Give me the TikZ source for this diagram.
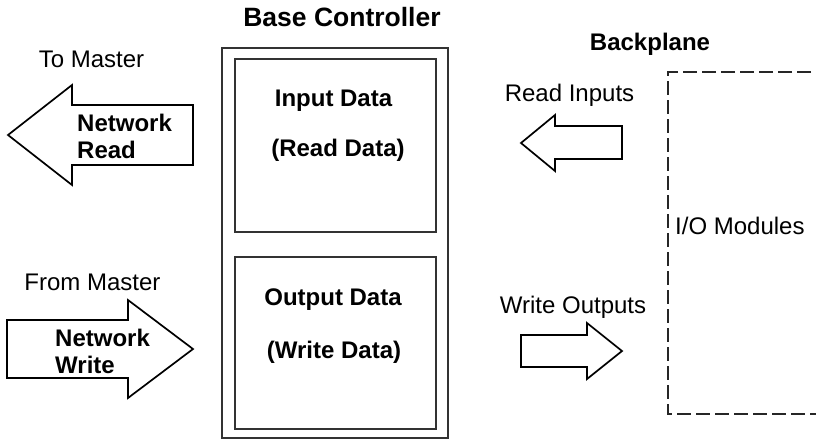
\documentclass[tikz,border=0pt]{standalone}
\usepackage{fontspec}
\setmainfont{Liberation Sans}
\begin{document}
\begin{tikzpicture}[x=1pt,y=-1pt,
  lbl/.style={inner sep=0pt,anchor=base,font=\fontsize{24}{27}\selectfont},
  blbl/.style={lbl,font=\fontsize{24}{27}\selectfont\bfseries},
  fat/.style={draw=black,line width=1.7pt,line join=miter,fill=white},
  boxline/.style={draw=black!80,line width=1.7pt},
  dashline/.style={draw=black!85,line width=1.8pt,dash pattern=on 14pt off 5pt}]
\useasboundingbox (0,0) rectangle (816,440);
\clip (0,0) rectangle (816,440);
% Network Read arrow (left)
\draw[fat] (8,135) -- (72,85) -- (72,105) -- (193,105) -- (193,165) -- (72,165) -- (72,185) -- cycle;
% Network Write arrow (right)
\draw[fat] (7,320) -- (128,320) -- (128,300) -- (193,349) -- (128,398) -- (128,378) -- (7,378) -- cycle;
% Read Inputs arrow
\draw[fat] (521,143) -- (555,115) -- (555,126) -- (622,126) -- (622,159) -- (555,159) -- (555,171) -- cycle;
% Write Outputs arrow
\draw[fat] (521,335) -- (587,335) -- (587,323) -- (622,351) -- (587,379) -- (587,367) -- (521,367) -- cycle;
% Base controller boxes
\node[boxline,minimum width=226pt,minimum height=390pt,inner sep=0pt] (outer) at (335,243) {};
\node[boxline,minimum width=201pt,minimum height=173pt,inner sep=0pt] (inbox) at (335.5,145.5) {};
\node[boxline,minimum width=201pt,minimum height=172pt,inner sep=0pt] (outbox) at (335.5,343) {};
% Backplane dashed box
\draw[dashline] (830,72) -- (668,72) -- (668,414) -- (830,414);
% Texts
\node[blbl,font=\fontsize{26.5}{27}\selectfont\bfseries] (bc) at (342,26) {Base Controller};
\node[blbl] (bp) at (650,50) {Backplane};
\node[lbl] (tom) at (91.5,67) {To Master};
\node[lbl] (frm) at (92.5,290) {From Master};
\node[lbl] (ri) at (569.5,101) {Read Inputs};
\node[lbl] (wo) at (573,313) {Write Outputs};
\node[lbl,anchor=base west] (io) at (675,234) {I/O Modules};
\node[blbl,anchor=base west] (nr1) at (77,131) {Network};
\node[blbl,anchor=base west] (nr2) at (77,158) {Read};
\node[blbl,anchor=base west] (nw1) at (55,346) {Network};
\node[blbl,anchor=base west] (nw2) at (55,373) {Write};
\node[blbl] (id) at (333.5,106) {Input Data};
\node[blbl] (rd) at (338,156) {(Read Data)};
\node[blbl] (od) at (333,305) {Output Data};
\node[blbl] (wd) at (334,358) {(Write Data)};
\end{tikzpicture}
\end{document}
